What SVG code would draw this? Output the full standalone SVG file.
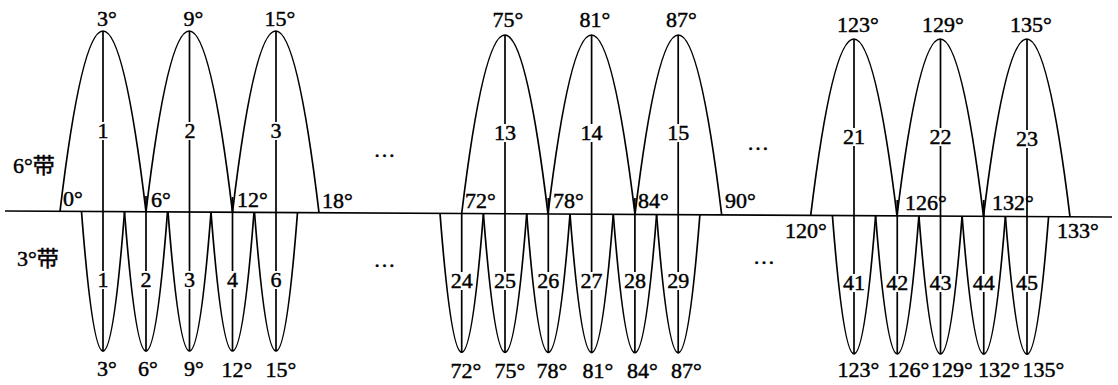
<svg xmlns="http://www.w3.org/2000/svg" width="1118" height="385" viewBox="0 0 1118 385">
<style>
.ln{fill:none;stroke:#000;stroke-width:1.7;stroke-linejoin:round}
text{font-family:"Liberation Serif","Noto Sans CJK SC",serif;font-size:22px;fill:#000;stroke:#000;stroke-width:0.45}
.m,.n,.d{text-anchor:middle}
.bg{fill:#fff}
</style>
<defs>
<rect id="b1" class="bg" x="-6" y="-16" width="12" height="18"/>
<rect id="b2" class="bg" x="-11.5" y="-16" width="23" height="18"/>
</defs>
<rect width="1118" height="385" fill="#fff"/>
<g id="connectors">
<path id="equator" class="ln" d="M5,211 L1112,217"/>
</g>
<g id="zone6-1"><path class="ln" d="M60,211.3 Q103,-149.55 146,211.8"/><line class="ln" x1="103" y1="31" x2="103" y2="351"/><text class="m" x="107" y="26">3°</text><use href="#b1" x="103" y="138"/><text class="n" x="103" y="138">1</text></g>
<g id="zone6-2"><path class="ln" d="M146,211.8 Q189.25,-150.05 232.5,212.3"/><line class="ln" x1="189.5" y1="31" x2="189.5" y2="351"/><text class="m" x="193.5" y="26">9°</text><use href="#b1" x="190" y="138"/><text class="n" x="190" y="138">2</text></g>
<g id="zone6-3"><path class="ln" d="M232.5,212.3 Q275.75,-150.5 319,212.7"/><line class="ln" x1="276" y1="31" x2="276" y2="351"/><text class="m" x="280" y="26">15°</text><use href="#b1" x="276" y="138"/><text class="n" x="276" y="138">3</text></g>
<g id="zone6-13"><path class="ln" d="M461.7,213.5 Q504.85,-143.75 548,214"/><line class="ln" x1="505" y1="35" x2="505" y2="352.5"/><text class="m" x="508" y="27">75°</text><use href="#b2" x="505" y="140"/><text class="n" x="505" y="140">13</text></g>
<g id="zone6-14"><path class="ln" d="M548,214 Q591.5,-144.2 635,214.4"/><line class="ln" x1="591.6" y1="35" x2="591.6" y2="352.5"/><text class="m" x="595" y="27">81°</text><use href="#b2" x="591.6" y="140"/><text class="n" x="591.6" y="140">14</text></g>
<g id="zone6-15"><path class="ln" d="M635,214.4 Q678.35,-144.65 721.7,214.9"/><line class="ln" x1="678.2" y1="35" x2="678.2" y2="352.5"/><text class="m" x="681.5" y="27">87°</text><use href="#b2" x="678.2" y="140"/><text class="n" x="678.2" y="140">15</text></g>
<g id="zone6-21"><path class="ln" d="M810.7,215.4 Q853.85,-137.65 897,215.9"/><line class="ln" x1="854" y1="39" x2="854" y2="354"/><text class="m" x="858" y="32">123°</text><use href="#b2" x="854" y="144"/><text class="n" x="854" y="144">21</text></g>
<g id="zone6-22"><path class="ln" d="M897,215.9 Q940.25,-138.15 983.5,216.4"/><line class="ln" x1="940.5" y1="39" x2="940.5" y2="354"/><text class="m" x="943" y="32">129°</text><use href="#b2" x="940.5" y="144"/><text class="n" x="940.5" y="144">22</text></g>
<g id="zone6-23"><path class="ln" d="M983.5,216.4 Q1026.75,-138.6 1070,216.8"/><line class="ln" x1="1027" y1="39" x2="1027" y2="354"/><text class="m" x="1031" y="32">135°</text><use href="#b2" x="1027" y="146"/><text class="n" x="1027" y="146">23</text></g>
<g id="zone3-1"><path class="ln" d="M81.5,211.5 Q103,490.5 124.5,211.7"/><use href="#b1" x="103" y="287"/><text class="n" x="103" y="287">1</text><text class="m" x="107" y="376">3°</text></g>
<g id="zone3-2"><line class="ln" x1="146" y1="196" x2="146" y2="351"/><path class="ln" d="M124.5,211.7 Q146,490.3 167.5,211.9"/><use href="#b1" x="146" y="287"/><text class="n" x="146" y="287">2</text><text class="m" x="148" y="376">6°</text></g>
<g id="zone3-3"><path class="ln" d="M168,211.9 Q189.5,490 211,212.1"/><use href="#b1" x="189.5" y="287"/><text class="n" x="189.5" y="287">3</text><text class="m" x="194" y="376">9°</text></g>
<g id="zone3-4"><line class="ln" x1="232.5" y1="197" x2="232.5" y2="351"/><path class="ln" d="M211,212.1 Q232.5,489.8 254,212.3"/><use href="#b1" x="232.5" y="287"/><text class="n" x="232.5" y="287">4</text><text class="m" x="237" y="377">12°</text></g>
<g id="zone3-5"><path class="ln" d="M254.5,212.3 Q276,489.6 297.5,212.5"/><use href="#b1" x="276" y="287"/><text class="n" x="276" y="287">6</text><text class="m" x="281" y="377">15°</text></g>
<g id="zone3-24"><line class="ln" x1="461.7" y1="213.5" x2="461.7" y2="352.5"/><path class="ln" d="M440,213.4 Q461.7,491 483.4,213.6"/><use href="#b2" x="461.7" y="288"/><text class="n" x="461.7" y="288">24</text><text class="m" x="466" y="378">72°</text></g>
<g id="zone3-25"><path class="ln" d="M483.4,213.6 Q505,491 526.7,213.8"/><use href="#b2" x="505" y="288"/><text class="n" x="505" y="288">25</text><text class="m" x="510" y="378">75°</text></g>
<g id="zone3-26"><line class="ln" x1="548.3" y1="198" x2="548.3" y2="352.5"/><path class="ln" d="M526.7,213.8 Q548.3,491 570,214"/><use href="#b2" x="548.3" y="288"/><text class="n" x="548.3" y="288">26</text><text class="m" x="552" y="378">78°</text></g>
<g id="zone3-27"><path class="ln" d="M570,214 Q591.6,491 613.3,214.2"/><use href="#b2" x="591.6" y="288"/><text class="n" x="591.6" y="288">27</text><text class="m" x="598" y="378">81°</text></g>
<g id="zone3-28"><line class="ln" x1="634.9" y1="198" x2="634.9" y2="352.5"/><path class="ln" d="M613.3,214.2 Q634.9,491 656.6,214.5"/><use href="#b2" x="634.9" y="288"/><text class="n" x="634.9" y="288">28</text><text class="m" x="642.5" y="378">84°</text></g>
<g id="zone3-29"><path class="ln" d="M656.6,214.5 Q678.2,491 699.9,214.7"/><use href="#b2" x="678.2" y="288"/><text class="n" x="678.2" y="288">29</text><text class="m" x="686.5" y="378">87°</text></g>
<g id="zone3-41"><path class="ln" d="M832.4,215.5 Q854,492 875.6,215.7"/><use href="#b2" x="854" y="290"/><text class="n" x="854" y="290">41</text><text class="m" x="858.5" y="377">123°</text></g>
<g id="zone3-42"><line class="ln" x1="897.25" y1="200" x2="897.25" y2="354"/><path class="ln" d="M875.6,215.7 Q897.25,492 918.9,215.9"/><use href="#b2" x="897.25" y="290"/><text class="n" x="897.25" y="290">42</text><text class="m" x="908.5" y="377">126°</text></g>
<g id="zone3-43"><path class="ln" d="M918.9,215.9 Q940.5,492 962.1,216.1"/><use href="#b2" x="940.5" y="290"/><text class="n" x="940.5" y="290">43</text><text class="m" x="952" y="377">129°</text></g>
<g id="zone3-44"><line class="ln" x1="983.75" y1="200" x2="983.75" y2="354"/><path class="ln" d="M962.1,216.1 Q983.75,492 1005.4,216.3"/><use href="#b2" x="983.75" y="290"/><text class="n" x="983.75" y="290">44</text><text class="m" x="999" y="377">132°</text></g>
<g id="zone3-45"><path class="ln" d="M1005.4,216.3 Q1027,492 1048.6,216.5"/><use href="#b2" x="1027" y="290"/><text class="n" x="1027" y="290">45</text><text class="m" x="1043.5" y="377">135°</text></g>
<g id="equator-labels">
<text x="63" y="206">0°</text><text x="151" y="207">6°</text><text x="237" y="207">12°</text><text x="322" y="208">18°</text>
<text x="465" y="208">72°</text><text x="553" y="208">78°</text><text x="638" y="208">84°</text><text x="725" y="208">90°</text>
<text x="905" y="210">126°</text><text x="992" y="210">132°</text>
<text x="785" y="238">120°</text><text x="1057" y="238">133°</text>
</g>
<g id="band-labels">
<text x="13" y="173">6°带</text>
<text x="17" y="266">3°带</text>
</g>
<g id="ellipses">
<text class="d" x="384.5" y="157">…</text>
<text class="d" x="384.5" y="267">…</text>
<text class="d" x="758" y="150">…</text>
<text class="d" x="764" y="264">…</text>
</g>
</svg>
